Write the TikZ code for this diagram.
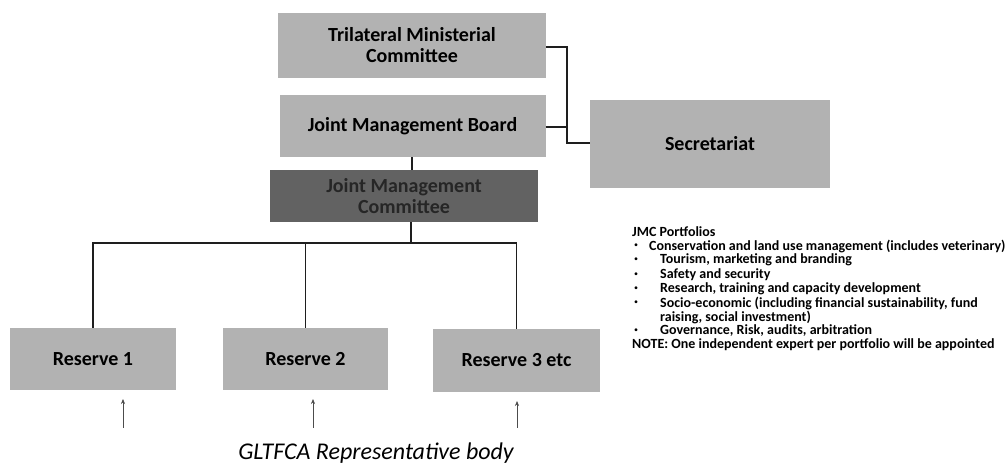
\documentclass[tikz,border=0pt]{standalone}
\usepackage{fontspec}
\setmainfont{Carlito}
\usetikzlibrary{arrows.meta}
\definecolor{boxlight}{RGB}{178,178,178}
\definecolor{boxdark}{RGB}{98,98,98}
\definecolor{linec}{RGB}{30,30,30}
\begin{document}
\begin{tikzpicture}[x=1pt,y=-1pt,
  orgbox/.style={draw=none,fill=boxlight,minimum width=#1,inner sep=0pt,align=center,font=\fontsize{20}{21}\selectfont\bfseries,text=black},
  darkbox/.style={draw=none,fill=boxdark,inner sep=0pt,align=center,font=\fontsize{20}{21}\selectfont\bfseries,text=black!85},
  conn/.style={draw=linec,line width=1.1pt},
  uparrow/.style={draw=black!70,line width=0.6pt,-{Stealth[length=5pt,width=4pt]}},
  portf/.style={anchor=west,inner sep=0pt,font=\fontsize{14}{14}\selectfont\bfseries},
  bul/.style={anchor=center,inner sep=0pt,font=\fontsize{8}{8}\selectfont}
]
\useasboundingbox (0,0) rectangle (1005,470);
\fill[white] (0,0) rectangle (1005,470);

% boxes
\node[orgbox=268pt,minimum height=65pt] (tmc) at (412,45.5) {Trilateral Ministerial\\Committee};
\node[orgbox=266pt,minimum height=62pt] (jmb) at (412.5,126) {Joint Management Board};
\node[darkbox,minimum width=268pt,minimum height=52pt] (jmc) at (404,196) {Joint Management\\Committee};
\node[orgbox=240pt,minimum height=88pt] (sec) at (710,144) {Secretariat};
\node[orgbox=166pt,minimum height=62pt] (r1) at (93,359) {Reserve 1};
\node[orgbox=165pt,minimum height=62pt] (r2) at (305.5,359) {Reserve 2};
\node[orgbox=167pt,minimum height=63pt] (r3) at (516.5,360.5) {Reserve 3 etc};

% bracket to secretariat
\coordinate (bk) at (567,143);
\draw[conn] (tmc.east |- 0,47) -| (bk) -- (sec.west |- bk);
\draw[conn] (jmb.east |- 0,127) -- (bk |- 0,127);

% hierarchy
\draw[conn] (jmb.south -| 412,0) -- (jmc.north -| 412,0);
\coordinate (bus) at (411,243);
\draw[conn] (jmc.south -| bus) -- (bus);
\draw[conn] (r1.north) -- (r1.north |- bus) -- (r3.north |- bus) -- (r3.north);
\draw[conn] (r2.north) -- (r2.north |- bus);

% arrows from representative body
\coordinate (a1) at (123,428);
\coordinate (a2) at (313,428);
\coordinate (a3) at (517,428);
\draw[uparrow] (a1) -- (123,399);
\draw[uparrow] (a2) -- (313,399);
\draw[uparrow] (a3) -- (517,401);

\node[anchor=center,inner sep=0pt,font=\fontsize{24}{26}\selectfont\itshape] (cap) at (376,453) {GLTFCA Representative body};

% portfolio list
\node[portf] (p0) at (632,232) {JMC Portfolios};
\node[bul] (b1) at (636,246) {\textbullet};
\node[portf] (t1) at (649,246) {Conservation and land use management (includes veterinary)};
\node[bul] (b2) at (636,260) {\textbullet};
\node[portf] (t2) at (660,260) {Tourism, marketing and branding};
\node[bul] (b3) at (636,275) {\textbullet};
\node[portf] (t3) at (660,275) {Safety and security};
\node[bul] (b4) at (636,289) {\textbullet};
\node[portf] (t4) at (660,289) {Research, training and capacity development};
\node[bul] (b5) at (636,303) {\textbullet};
\node[portf] (t5) at (660,303) {Socio-economic (including financial sustainability, fund};
\node[portf] (t5b) at (660,317) {raising, social investment)};
\node[bul] (b6) at (636,331) {\textbullet};
\node[portf] (t6) at (660,331) {Governance, Risk, audits, arbitration};
\node[portf] (p7) at (632,345) {NOTE: One independent expert per portfolio will be appointed};
\end{tikzpicture}
\end{document}
